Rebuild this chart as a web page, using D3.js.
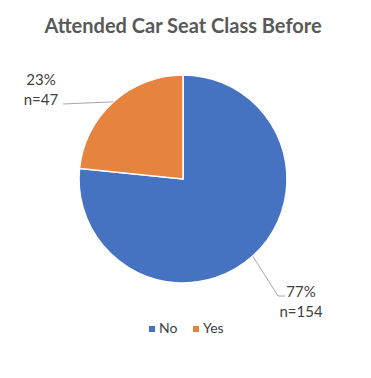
<!DOCTYPE html>
<html>
<head>
<meta charset="utf-8">
<script src="https://cdn.jsdelivr.net/npm/d3@7"></script>
<style>
  body { margin: 0; background: #fff; }
  svg { display: block; }
</style>
</head>
<body>
<div id="canvas"></div>
<script>
"use strict"

// chart data
let categories = ["No", "Yes"];
let counts = [154, 47];
let percents = ["77%", "23%"];
let colors = ["#4672C2", "#E6833F"];
let title = "Attended Car Seat Class Before";

let width = 371, height = 378;
let cx = 183, cy = 179, radius = 104;

let drawing = d3.select("#canvas")
    .append("svg")
    .attr("width", width)
    .attr("height", height);

drawing.append("text")
    .attr("x", 183)
    .attr("y", 33)
    .attr("text-anchor", "middle")
    .attr("font-family", "Lato, 'Open Sans', sans-serif")
    .attr("font-weight", "bold")
    .attr("font-size", 20)
    .attr("fill", "#595959")
    .text(title);

let pie = d3.pie().sort(null).value(d => d);
let arcs = pie(counts);
let arc = d3.arc().innerRadius(0).outerRadius(radius);

let pieGroup = drawing.append("g")
    .attr("transform", `translate(${cx},${cy})`);

pieGroup.selectAll("path")
    .data(arcs)
    .enter()
    .append("path")
    .attr("d", arc)
    .attr("fill", (d, i) => colors[i])
    .attr("stroke", "#fff")
    .attr("stroke-width", 1.5);

// leader lines and labels (Excel style, placed outside the pie)
let labelSpots = [
    { x: 301, y: 297, bend: [278, 296], end: [285, 296] },
    { x: 41, y: 85, bend: null, end: [63, 104] }
];

let labelGroup = drawing.append("g");

arcs.forEach(function (d, i) {
    let spot = labelSpots[i];
    // leader starts at the middle of the slice's outer edge
    let a = (d.startAngle + d.endAngle) / 2;
    let ex = cx + Math.sin(a) * radius;
    let ey = cy - Math.cos(a) * radius;
    let pts = spot.bend ? [[ex, ey], spot.bend, spot.end] : [[ex, ey], spot.end];
    labelGroup.append("path")
        .attr("d", d3.line()(pts))
        .attr("fill", "none")
        .attr("stroke", "#A6A6A6")
        .attr("stroke-width", 1);

    let t = labelGroup.append("text")
        .attr("text-anchor", "middle")
        .attr("font-family", "Lato, 'Open Sans', sans-serif")
        .attr("font-size", 15)
        .attr("fill", "#404040");
    t.append("tspan").attr("x", spot.x).attr("y", spot.y).text(percents[i]);
    t.append("tspan").attr("x", spot.x).attr("y", spot.y + 20).text("n=" + counts[i]);
});

// legend
let legendX = d3.scaleOrdinal().domain(categories).range([149, 193]);
let legend = drawing.append("g");
categories.forEach(function (c, i) {
    legend.append("rect")
        .attr("x", legendX(c))
        .attr("y", 326)
        .attr("width", 6)
        .attr("height", 6)
        .attr("fill", colors[i]);
    legend.append("text")
        .attr("x", legendX(c) + 10)
        .attr("y", 333)
        .attr("font-family", "Lato, 'Open Sans', sans-serif")
        .attr("font-size", 14)
        .attr("fill", "#404040")
        .text(c);
});
</script>
</body>
</html>
